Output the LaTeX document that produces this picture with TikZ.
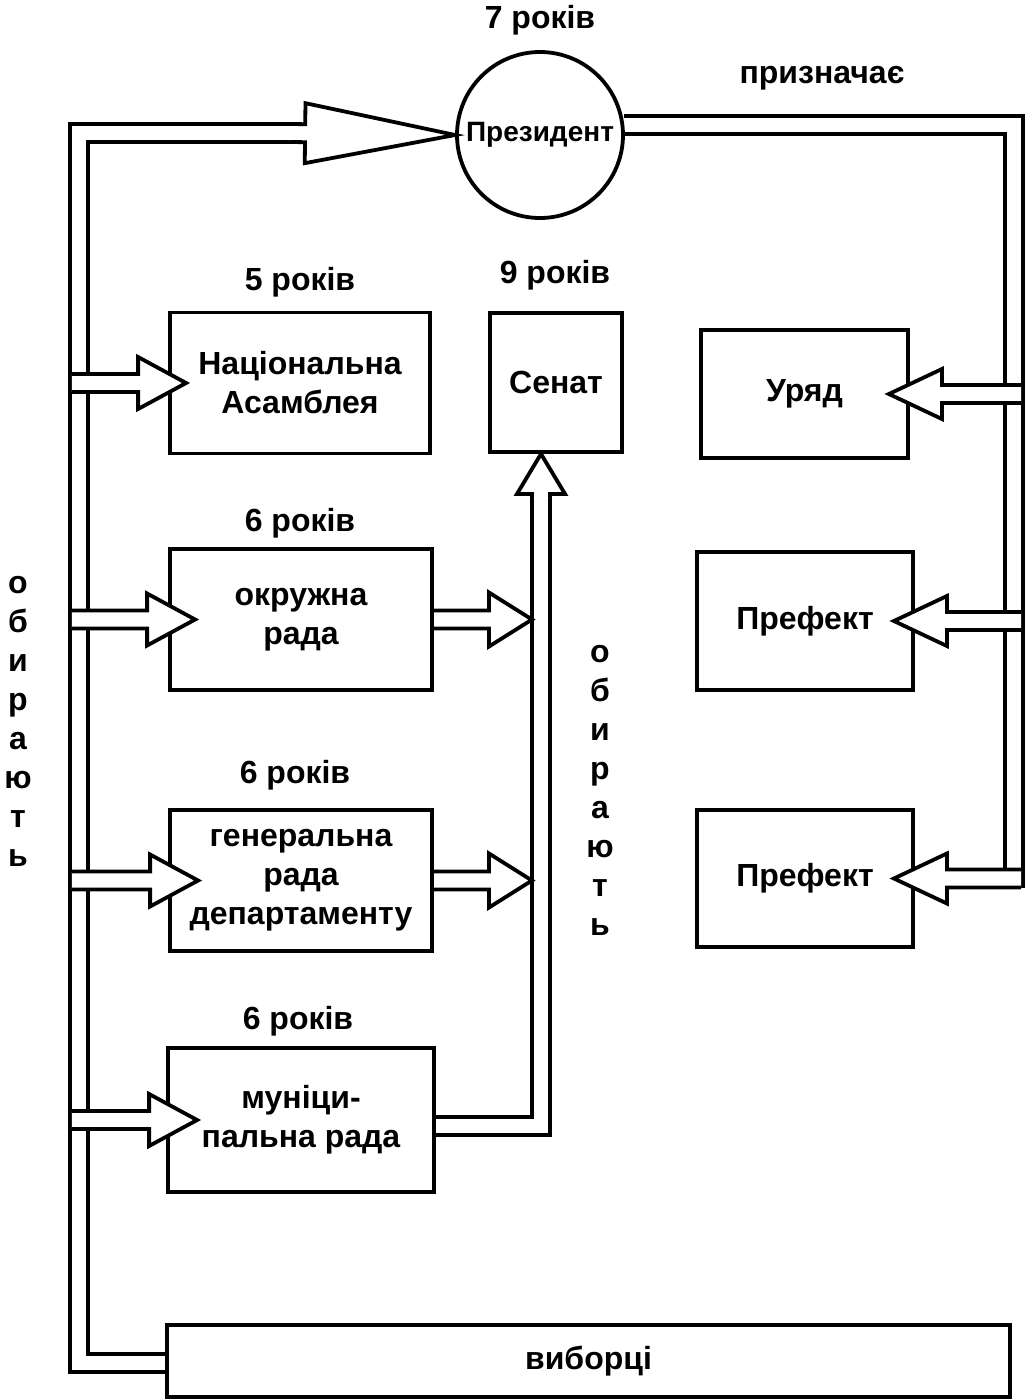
\documentclass[tikz,border=0pt]{standalone}
\usepackage{fontspec}
\setmainfont{Liberation Sans}
\usetikzlibrary{calc,backgrounds}

\tikzset{
  box/.style={draw, line width=1.9pt, fill=white, align=center, inner sep=2pt},
  pipe/.style={double, double distance=7.1pt, line width=1.9pt, line join=miter},
}

% hollow block arrow: #1 head length, #2 head half width, #3 tail, #4 tip
\newcommand{\blockarrow}[4]{%
  \coordinate (ba-t) at (#3);
  \coordinate (ba-p) at (#4);
  \coordinate (ba-h) at ($(ba-p)!#1!(ba-t)$);
  \filldraw[fill=white, line width=1.9pt]
    ($(ba-t)!4.5pt!90:(ba-p)$) -- ($(ba-h)!4.5pt!90:(ba-p)$)
    -- ($(ba-h)!#2!90:(ba-p)$) -- (ba-p)
    -- ($(ba-h)!#2!-90:(ba-p)$) -- ($(ba-h)!4.5pt!-90:(ba-p)$)
    -- ($(ba-t)!4.5pt!-90:(ba-p)$);
}

\begin{document}
\begin{tikzpicture}[x=0.5pt, y=-0.5pt, font=\fontsize{16}{19.5}\selectfont\bfseries]
\useasboundingbox (0,0) rectangle (1028,1399);

% president
\node[circle, draw, line width=1.9pt, fill=white, minimum size=83pt, inner sep=0pt,
      font=\fontsize{14}{17}\selectfont\bfseries] (pres) at (540,135) {Президент};
\node (presterm) at (540,20) {7 років};
\node (appoint) at (822,78) {призначає};

% elected bodies
\node[box, minimum width=130pt, minimum height=70.5pt] (nat) at (300,383) {Національна\\Асамблея};
\node (natterm) at (300,282) {5 років};
\node[box, minimum width=66pt, minimum height=69.5pt] (sen) at (556,382.5) {Сенат};
\node (senterm) at (555,275) {9 років};
\node[box, minimum width=131pt, minimum height=70.5pt] (okr) at (301,619.5) {окружна\\рада};
\node (okrterm) at (300,523) {6 років};
\node[box, minimum width=131pt, minimum height=70.5pt] (gen) at (301,880.5) {генеральна\\рада\\департаменту};
\node (genterm) at (295,775) {6 років};
\node[box, minimum width=133pt, minimum height=72pt] (muni) at (301,1120) {муніци-\\пальна рада};
\node (muniterm) at (298,1021) {6 років};

% appointed bodies
\node[box, minimum width=103.5pt, minimum height=64pt] (gov) at (804.5,394) {Уряд};
\node[box, minimum width=108pt, minimum height=69pt] (pref1) at (805,621) {Префект};
\node[box, minimum width=108pt, minimum height=68.5pt] (pref2) at (805,878.5) {Префект};

\node[box, minimum width=421.5pt, minimum height=36pt] (voters) at (588.5,1361) {виборці};

% vertical captions
\node[align=center] (electL) at (18,721) {о\\б\\и\\р\\а\\ю\\т\\ь};
\node[align=center] (electM) at (600,790) {о\\б\\и\\р\\а\\ю\\т\\ь};

% pipe corners
\coordinate (lt) at (79,133);
\coordinate (lb) at (79,1363);
\coordinate (ptail) at (290,133);
\coordinate (rb) at (1014,887.5);
\coordinate (sb) at (541,1126);
\coordinate (stail) at (541,498);

\begin{scope}[on background layer]
\draw[pipe] (ptail) -- (lt) -- (lb) -- (voters |- lb);
\draw[pipe] (pres.7) -- (pres.7 -| rb) -- (rb);
\draw[pipe] (muni |- sb) -- (sb) -- (stail);
\blockarrow{21.5pt}{13.5pt}{okr.center}{$(sb |- okr)+(-9,0)$}
\blockarrow{21.5pt}{13.5pt}{gen.center}{$(sb |- gen)+(-9,0)$}
\end{scope}

% voters elect
\blockarrow{75pt}{15pt}{ptail}{pres.west}
\blockarrow{24pt}{13pt}{$(lt |- nat)+(-7.1,0)$}{$(nat.west)+(18,0)$}
\blockarrow{24pt}{13pt}{$(lt |- okr)+(-7.1,0)$}{$(okr.west)+(27,0)$}
\blockarrow{24pt}{13pt}{$(lt |- gen)+(-7.1,0)$}{$(gen.west)+(30,0)$}
\blockarrow{24pt}{13pt}{$(lt |- muni)+(-7.1,0)$}{$(muni.west)+(31,0)$}
\blockarrow{20pt}{12pt}{stail}{stail |- sen.south}

% president appoints
\blockarrow{26.5pt}{12.5pt}{$(rb |- gov)+(7.1,0)$}{$(gov.east)+(-21,0)$}
\blockarrow{26.5pt}{12.5pt}{$(rb |- pref1)+(7.1,0)$}{$(pref1.east)+(-21,0)$}
\blockarrow{26.5pt}{12.5pt}{$(rb |- pref2)+(7.1,0)$}{$(pref2.east)+(-21,0)$}
\end{tikzpicture}
\end{document}
